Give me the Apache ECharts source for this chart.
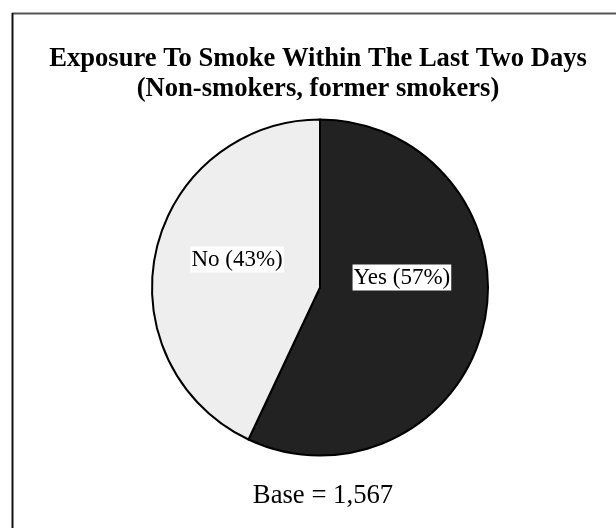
<!DOCTYPE html>
<html>
<head>
<meta charset="utf-8">
<script src="https://cdn.jsdelivr.net/npm/echarts@6/dist/echarts.min.js"></script>
<style>html,body{margin:0;padding:0;background:#fff;}#c{width:616px;height:528px;}</style>
</head>
<body>
<div id="c"></div>
<script>
var titleText = 'Exposure To Smoke Within The Last Two Days\n(Non-smokers, former smokers)';
var baseText = 'Base = 1,567';
var categories = ['Yes', 'No'];
var values = [57, 43];
var colors = ['#222222', '#eeeeee'];
var labelShift = [[-3, -29], [2, -9]];

var chart = echarts.init(document.getElementById('c'), null, {renderer: 'canvas'});
var serif = '"Liberation Serif", "Times New Roman", serif';
chart.setOption({
  animation: false,
  backgroundColor: '#ffffff',
  graphic: [
    {type: 'line', shape: {x1: 12, y1: 13.5, x2: 616, y2: 13.5}, style: {stroke: '#555', lineWidth: 2}},
    {type: 'line', shape: {x1: 12.5, y1: 13, x2: 12.5, y2: 528}, style: {stroke: '#111', lineWidth: 2}},
    {type: 'text', x: 318, y: 44, style: {text: titleText, align: 'center', verticalAlign: 'top',
      font: 'bold 26.6px ' + serif, lineHeight: 30, fill: '#000'}},
    {type: 'text', x: 323, y: 481, style: {text: baseText, align: 'center', verticalAlign: 'top',
      font: 'normal 26.7px ' + serif, lineHeight: 30, fill: '#000'}}
  ],
  series: [{
    type: 'pie',
    center: [320, 287.5],
    radius: [0, 168],
    startAngle: 90,
    clockwise: true,
    silent: true,
    itemStyle: {borderColor: '#000', borderWidth: 2},
    label: {
      show: true,
      position: 'inside',
      formatter: function (p) { return p.name + ' (' + p.value + '%)'; },
      fontFamily: serif,
      fontSize: 23,
      color: '#000',
      backgroundColor: '#fff',
      padding: [2, 1, 1, 1]
    },
    labelLine: {show: false},
    labelLayout: function (p) {
      var s = labelShift[p.dataIndex];
      return {dx: s[0], dy: s[1]};
    },
    data: categories.map(function (c, i) {
      return {name: c, value: values[i], itemStyle: {color: colors[i]}};
    })
  }]
});
</script>
</body>
</html>
